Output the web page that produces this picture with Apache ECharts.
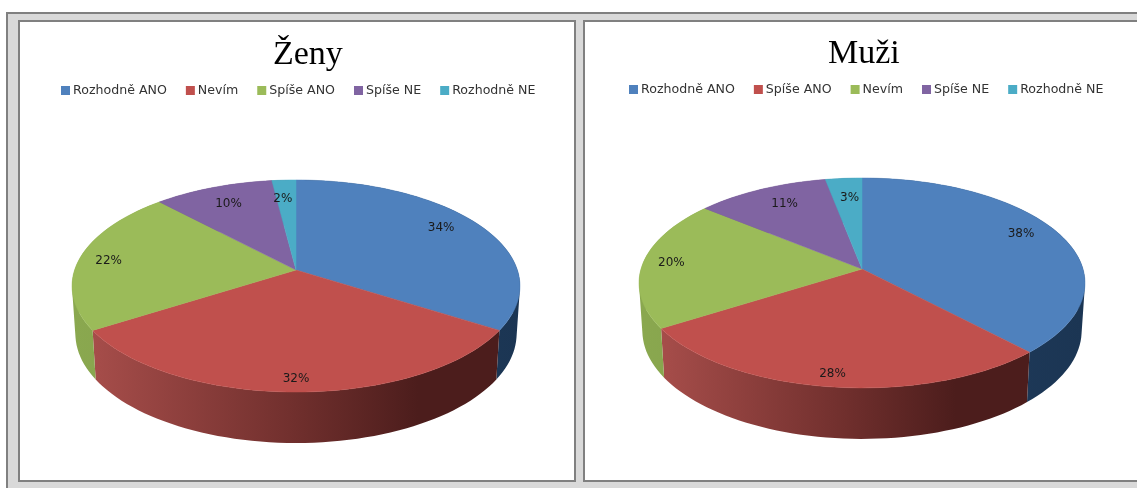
<!DOCTYPE html>
<html>
<head>
<meta charset="utf-8">
<script src="https://cdn.jsdelivr.net/npm/echarts@6/dist/echarts.min.js"></script>
<style>
html, body { margin: 0; height: 100%; background: #fff; overflow: hidden; }
#frame { position: absolute; left: 6px; top: 12px; width: 1200px; height: 600px; background: #d9d9d9; border: 2px solid #808080; }
.panel { position: absolute; top: 20px; height: 458px; background: #fff; border: 2px solid #808080; }
#zeny { left: 18px; width: 554px; }
#muzi { left: 583px; width: 560px; }
</style>
</head>
<body>
<div id="frame"></div>
<div id="zeny" class="panel"></div>
<div id="muzi" class="panel"></div>
<script>
const zenyCategories = ['Rozhodně ANO', 'Nevím', 'Spíše ANO', 'Spíše NE', 'Rozhodně NE']
const zenyValues = [34, 32, 22, 10, 2]
const muziCategories = ['Rozhodně ANO', 'Spíše ANO', 'Nevím', 'Spíše NE', 'Rozhodně NE']
const muziValues = [38, 28, 20, 11, 3]

const topColors = ['#4f81bd', '#c0504d', '#9bbb59', '#8064a2', '#4bacc6']
const sideStops = [
  [[0, '#223f60'], [1, '#1b3553']],
  [[0, '#a64d4a'], [0.5, '#702f2d'], [0.8, '#4c1d1c'], [1, '#4c1d1c']],
  [[0, '#8aa84f'], [1, '#86a34d']],
  [[0, '#5f4a79'], [1, '#5f4a79']],
  [[0, '#38809a'], [1, '#38809a']]
]

// perspective of the disc: c = tilt, a/d = vertical and horizontal reach
const zenyDisc = { cx: 276, cy: 248, a: 103.6, c: -0.151, d: 221.4, drop: 47.3 }
const muziDisc = { cx: 277, cy: 247, a: 103.1, c: -0.133, d: 221, drop: 47.4 }

// excel does not keep labels on one radius, so each gets its own nudge
const zenyLabelNudge = [[-5, -4], [0, 12], [-10, 1], [2, 3], [-3, 4]]
const muziLabelNudge = [[-3, -5], [-4, 11], [-11, -1], [7, 1], [3, 5]]

function project(disc, u, v) {
  const w = 1 + disc.c * v
  return [disc.cx + disc.d * u / w, disc.cy + disc.a * v / w]
}

function projectBottom(disc, u, v) {
  const p = project(disc, u, v)
  return [disc.cx + (p[0] - disc.cx) * 0.985, disc.cy + disc.drop + (p[1] - disc.cy) * 1.03]
}

function arc(from, to, fn) {
  const pts = []
  const steps = Math.max(2, Math.ceil((to - from) * 180))
  for (let i = 0; i <= steps; i++) {
    const t = (from + (to - from) * i / steps) * Math.PI * 2
    pts.push(fn(Math.sin(t), -Math.cos(t)))
  }
  return pts
}

// the wall as one path of same-wound quads, so the fill has no seams
function wallPath(topArc, bottomArc) {
  let d = ''
  for (let k = 0; k < topArc.length - 1; k++) {
    const quad = [topArc[k], topArc[k + 1], bottomArc[k + 1], bottomArc[k]]
    let area = 0
    quad.forEach((p, j) => {
      const q = quad[(j + 1) % 4]
      area += p[0] * q[1] - q[0] * p[1]
    })
    if (area < 0) quad.reverse()
    d += 'M' + quad.map(p => p[0].toFixed(2) + ' ' + p[1].toFixed(2)).join('L') + 'Z'
  }
  return d
}

function buildOption(title, categories, values, disc, nudge, layout) {
  const total = values.reduce((a, b) => a + b, 0)
  let sum = 0
  const series = categories.map((name, i) => {
    const from = sum / total
    sum += values[i]
    const to = sum / total
    return {
      type: 'custom',
      name,
      coordinateSystem: 'none',
      color: topColors[i],
      data: [[values[i]]],
      silent: true,
      renderItem(params, api) {
        const topArc = arc(from, to, (u, v) => project(disc, u, v))
        const bottomArc = arc(from, to, (u, v) => projectBottom(disc, u, v))
        const xs = topArc.map(p => p[0])
        const mid = (from + to) * Math.PI
        const label = project(disc, Math.sin(mid) * 0.82, -Math.cos(mid) * 0.82)
        return {
          type: 'group',
          children: [
            {
              type: 'path',
              z2: 1,
              shape: { pathData: wallPath(topArc, bottomArc) },
              style: {
                fill: new echarts.graphic.LinearGradient(
                  Math.min(...xs), 0, Math.max(...xs), 0,
                  sideStops[i].map(s => ({ offset: s[0], color: s[1] })), true)
              }
            },
            {
              type: 'polygon',
              z2: 2,
              shape: { points: [project(disc, 0, 0)].concat(topArc) },
              style: { fill: topColors[i], stroke: topColors[i], lineWidth: 0.5 }
            },
            {
              type: 'text',
              z2: 3,
              style: {
                x: label[0] + nudge[i][0],
                y: label[1] + nudge[i][1],
                text: api.value(0) + '%',
                fill: '#1a1a1a',
                font: '12px "DejaVu Sans"',
                align: 'center',
                verticalAlign: 'middle'
              }
            }
          ]
        }
      }
    }
  })

  return {
    animation: false,
    title: {
      text: title,
      left: layout.titleLeft,
      top: layout.titleTop,
      padding: 0,
      textStyle: { fontFamily: 'Liberation Serif', fontSize: 34, fontWeight: 'normal', color: '#000' }
    },
    legend: {
      data: categories,
      left: layout.legendLeft,
      top: layout.legendTop,
      padding: 0,
      itemWidth: 9,
      itemHeight: 9,
      itemGap: layout.legendGap,
      icon: 'rect',
      selectedMode: false,
      textStyle: { fontFamily: 'DejaVu Sans', fontSize: 12.6, color: '#333', padding: [0, 0, 0, -2] }
    },
    series
  }
}

const zenyChart = echarts.init(document.getElementById('zeny'))
zenyChart.setOption(buildOption('Ženy', zenyCategories, zenyValues, zenyDisc, zenyLabelNudge,
  { titleLeft: 253, titleTop: 16, legendLeft: 41, legendTop: 62, legendGap: 19 }))

const muziChart = echarts.init(document.getElementById('muzi'))
muziChart.setOption(buildOption('Muži', muziCategories, muziValues, muziDisc, muziLabelNudge,
  { titleLeft: 243, titleTop: 15, legendLeft: 44, legendTop: 61, legendGap: 19 }))
</script>
</body>
</html>
